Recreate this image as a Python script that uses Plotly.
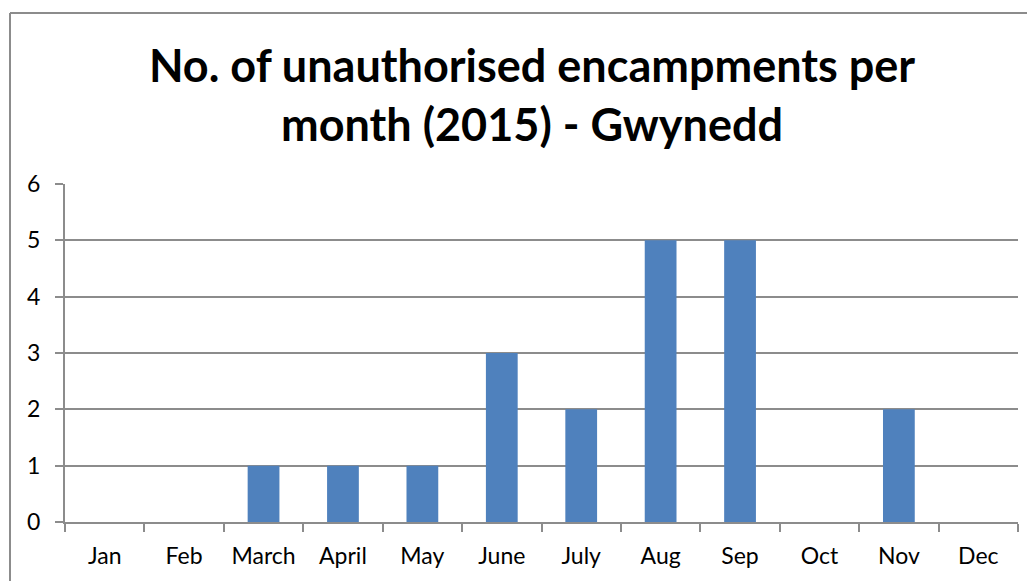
import plotly.graph_objects as go

months = ["Jan", "Feb", "March", "April", "May", "June", "July", "Aug", "Sep", "Oct", "Nov", "Dec"]
encampments = [0, 0, 1, 1, 1, 3, 2, 5, 5, 0, 2, 0]
y_ticks = [0, 1, 2, 3, 4, 5, 6]

# the page body adds 8px on top/left, so the figure is laid out 8px up/left
# and made 8px smaller so the page does not overflow the window
W, H = 1027, 573
ml, mr, mt, mb = 57, 17, 176, 59
pw, ph = W - ml - mr, H - mt - mb

axis_grey = "#8c8c8c"
font_name = "Lato, Open Sans, sans-serif"

fig = go.Figure(go.Bar(
    x=months,
    y=encampments,
    marker_color="#4F81BD",
    marker_line_width=0,
    width=0.4,
))

# outer chart border: only top and left edges are visible in the crop
bx0, by1 = (2 - ml) / pw, (H - mb - 5) / ph
bx1, by0 = (W - ml) / pw, -(mb + 5) / ph
border = dict(color="#8c8c8c", width=2)
fig.add_shape(type="line", xref="paper", yref="paper",
              x0=bx0, x1=bx1, y0=by1, y1=by1, line=border)
fig.add_shape(type="line", xref="paper", yref="paper",
              x0=bx0, x1=bx0, y0=by0, y1=by1, line=border)

fig.update_layout(
    width=W, height=H,
    margin=dict(l=ml, r=mr, t=mt, b=mb),
    paper_bgcolor="white", plot_bgcolor="white",
    font=dict(family=font_name, color="black", size=24),
    title=dict(
        text="<b>No. of unauthorised encampments per<br>month (2015) - Gwynedd</b>",
        x=524 / W, xanchor="center", xref="container",
        y=1 - 74 / H, yanchor="top", yref="container",
        font=dict(size=45, family=font_name, color="black"),
    ),
    showlegend=False,
    bargap=0.6,
)

fig.update_xaxes(
    showline=True, linecolor=axis_grey, linewidth=2,
    ticks="outside", tickson="boundaries", ticklen=8, tickcolor=axis_grey, tickwidth=2,
    showgrid=False, tickfont=dict(size=23), ticklabelstandoff=12,
)
fig.update_yaxes(
    range=[0, 6], tickvals=y_ticks,
    showline=True, linecolor=axis_grey, linewidth=2,
    ticks="outside", ticklen=8, tickcolor=axis_grey, tickwidth=2,
    showgrid=True, gridcolor=axis_grey, gridwidth=2,
    zeroline=False, tickfont=dict(size=23), ticklabelstandoff=10,
)

fig.write_html("out.html")
